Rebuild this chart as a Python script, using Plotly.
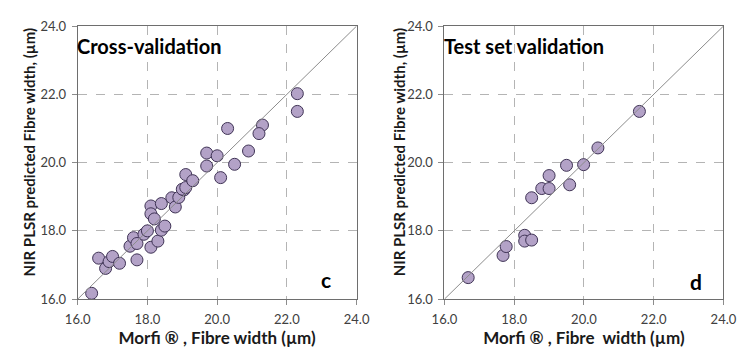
import plotly.graph_objects as go

# Cross-validation (panel c)
cv_x = [16.4, 16.6, 16.8, 16.9, 17.0, 17.2, 17.7, 17.5, 17.6, 17.7, 17.9, 18.0,
        18.1, 18.3, 18.4, 18.5, 18.1, 18.4, 18.1, 18.2, 18.7, 18.8, 18.9, 19.05,
        19.0, 19.1, 19.1, 19.3, 19.7, 20.0, 19.7, 20.5, 20.1, 20.9, 20.3, 21.3,
        21.2, 22.3, 22.3]
cv_y = [16.17, 17.2, 16.9, 17.1, 17.25, 17.05, 17.15, 17.55, 17.8, 17.63, 17.9, 18.0,
        17.52, 17.7, 18.02, 18.14, 18.73, 18.8, 18.5, 18.35, 18.97, 18.7, 18.98, 19.2,
        19.22, 19.27, 19.65, 19.47, 20.28, 20.2, 19.9, 19.95, 19.56, 20.34, 21.0, 21.1,
        20.85, 22.02, 21.5]

# Test set validation (panel d)
ts_x = [16.68, 17.68, 17.77, 18.3, 18.3, 18.5, 18.5, 18.79, 19.0, 19.0, 19.59,
        19.5, 19.99, 20.4, 21.59]
ts_y = [16.63, 17.28, 17.54, 17.87, 17.7, 17.73, 18.97, 19.24, 19.24, 19.62, 19.35,
        19.92, 19.94, 20.43, 21.5]

# 1:1 reference line
ref_line = [16.0, 24.0]
tick_vals = [16.0, 18.0, 20.0, 22.0, 24.0]
tick_text = ["16.0", "18.0", "20.0", "22.0", "24.0"]

FONT = "Lato, 'Open Sans', sans-serif"
marker = dict(size=12, color="#b3a2c7", line=dict(color="#3f3355", width=1))

fig = go.Figure()
fig.add_trace(go.Scatter(x=cv_x, y=cv_y, mode="markers", marker=marker,
                         xaxis="x", yaxis="y", showlegend=False))
fig.add_trace(go.Scatter(x=ref_line, y=ref_line, mode="lines",
                         line=dict(color="#8c8c8c", width=1),
                         xaxis="x", yaxis="y", showlegend=False))
fig.add_trace(go.Scatter(x=ts_x, y=ts_y, mode="markers", marker=marker,
                         xaxis="x2", yaxis="y2", showlegend=False))
fig.add_trace(go.Scatter(x=ref_line, y=ref_line, mode="lines",
                         line=dict(color="#8c8c8c", width=1),
                         xaxis="x2", yaxis="y2", showlegend=False))

axis_common = dict(range=[16, 24], tickvals=tick_vals, ticktext=tick_text,
                   showgrid=True, gridcolor="#b4b4b4", griddash="dash", gridwidth=1,
                   zeroline=False, showline=True, linecolor="#6e6e6e", linewidth=1,
                   mirror=True, ticks="outside", ticklen=5, tickcolor="#8c8c8c",
                   ticklabelstandoff=3,
                   tickfont=dict(family=FONT, size=13, color="#404040"))

ytitle = "<b>NIR PLSR predicted Fibre width, (µm)</b>"
title_font = dict(family=FONT, size=15, color="#1a1a1a")
fig.update_layout(
    width=748, height=351,
    margin=dict(l=0, r=0, t=0, b=0),
    paper_bgcolor="white", plot_bgcolor="white",
    font=dict(family=FONT, color="#000000"),
    xaxis=dict(domain=[0.0896, 0.4759], anchor="y",
               title=dict(text="<b>Morfi ® , Fibre width (µm)</b>", standoff=4,
                          font=dict(family=FONT, size=17, color="#1a1a1a")),
               **axis_common),
    yaxis=dict(domain=[0.131, 0.946], anchor="x", **axis_common),
    xaxis2=dict(domain=[0.5976, 0.9840], anchor="y2",
                title=dict(text="<b>Morfi ® , Fibre  width (µm)</b>", standoff=4,
                           font=dict(family=FONT, size=17, color="#1a1a1a")),
                **axis_common),
    yaxis2=dict(domain=[0.131, 0.946], anchor="x2", **axis_common),
    annotations=[
        dict(text=ytitle, xref="paper", yref="paper", x=0.0227, y=0.570,
             textangle=-90, xanchor="center", yanchor="middle", showarrow=False,
             font=title_font),
        dict(text=ytitle, xref="paper", yref="paper", x=0.535, y=0.570,
             textangle=-90, xanchor="center", yanchor="middle", showarrow=False,
             font=title_font),
        dict(text="<b>Cross-validation</b>", xref="x domain", yref="y domain",
             x=-0.01, y=0.927, xanchor="left", yanchor="middle", showarrow=False,
             font=dict(family=FONT, size=20, color="#000000")),
        dict(text="<b>c</b>", xref="x domain", yref="y domain",
             x=0.889, y=0.072, xanchor="center", yanchor="middle", showarrow=False,
             font=dict(family=FONT, size=21, color="#000000")),
        dict(text="<b>Test set validation</b>", xref="x2 domain", yref="y2 domain",
             x=-0.01, y=0.927, xanchor="left", yanchor="middle", showarrow=False,
             font=dict(family=FONT, size=20, color="#000000")),
        dict(text="<b>d</b>", xref="x2 domain", yref="y2 domain",
             x=0.903, y=0.066, xanchor="center", yanchor="middle", showarrow=False,
             font=dict(family=FONT, size=21, color="#000000")),
    ],
)

fig.write_html("out.html")
